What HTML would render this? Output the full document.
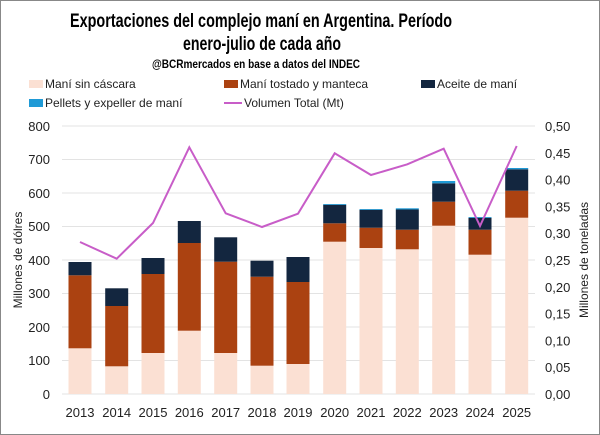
<!DOCTYPE html>
<html><head><meta charset="utf-8"><style>
html,body{margin:0;padding:0;background:#fff}
svg{display:block}
text{font-family:"Liberation Sans",sans-serif}
</style></head><body>
<svg width="600" height="435" viewBox="0 0 600 435" xmlns="http://www.w3.org/2000/svg">
<rect x="0.5" y="0.5" width="599" height="434" fill="#fff" stroke="#888"/>
<g font-family="Liberation Sans Narrow, Liberation Sans, sans-serif" font-weight="bold" text-anchor="middle" fill="#000">
<text x="261" y="27" font-size="19" textLength="382" lengthAdjust="spacingAndGlyphs">Exportaciones del complejo maní en Argentina. Período</text>
<text x="262" y="50" font-size="19" textLength="158" lengthAdjust="spacingAndGlyphs">enero-julio de cada año</text>
<text x="256" y="68" font-size="12" textLength="208" lengthAdjust="spacingAndGlyphs">@BCRmercados en base a datos del INDEC</text>
</g>
<g font-size="12" fill="#222">
<rect x="29" y="80" width="14" height="8" fill="#fbe0d3"/><text x="45" y="88">Maní sin cáscara</text>
<rect x="224" y="80" width="14" height="8" fill="#ab4211"/><text x="240" y="88">Maní tostado y manteca</text>
<rect x="421" y="80" width="14" height="8" fill="#13263f"/><text x="437" y="88">Aceite de maní</text>
<rect x="29" y="99" width="14" height="8" fill="#1f9ad6"/><text x="45" y="107">Pellets y expeller de maní</text>
<line x1="224" y1="103" x2="242" y2="103" stroke="#c85dc8" stroke-width="2"/><text x="244" y="107">Volumen Total (Mt)</text>
</g>
<g stroke="#e3e3e3" stroke-width="1">
<line x1="62" x2="535" y1="126" y2="126"/><line x1="62" x2="535" y1="159.5" y2="159.5"/>
<line x1="62" x2="535" y1="193" y2="193"/><line x1="62" x2="535" y1="226.5" y2="226.5"/>
<line x1="62" x2="535" y1="260" y2="260"/><line x1="62" x2="535" y1="293.5" y2="293.5"/>
<line x1="62" x2="535" y1="327" y2="327"/><line x1="62" x2="535" y1="360.5" y2="360.5"/>
<line x1="62" x2="535" y1="394" y2="394"/>
</g>
<g font-size="13" fill="#222" text-anchor="end">
<text x="50" y="131">800</text><text x="50" y="164">700</text><text x="50" y="198">600</text>
<text x="50" y="231">500</text><text x="50" y="265">400</text><text x="50" y="298">300</text>
<text x="50" y="332">200</text><text x="50" y="365">100</text><text x="50" y="399">0</text>
</g>
<g font-size="13" fill="#222">
<text x="545" y="131">0,50</text><text x="545" y="157.8">0,45</text><text x="545" y="184.6">0,40</text>
<text x="545" y="211.4">0,35</text><text x="545" y="238.2">0,30</text><text x="545" y="265">0,25</text>
<text x="545" y="291.8">0,20</text><text x="545" y="318.6">0,15</text><text x="545" y="345.4">0,10</text>
<text x="545" y="372.2">0,05</text><text x="545" y="399">0,00</text>
</g>
<text transform="translate(22,260) rotate(-90)" font-size="12" text-anchor="middle" fill="#222">Millones de dólres</text>
<text transform="translate(588,260) rotate(-90)" font-size="12" text-anchor="middle" fill="#222">Millones de toneladas</text>
<g>
<rect x="68.5" y="348.3" width="23" height="45.7" fill="#fbe0d3"/><rect x="68.5" y="275.3" width="23" height="73" fill="#ab4211"/><rect x="68.5" y="262" width="23" height="13.3" fill="#13263f"/>
<rect x="105.2" y="366.3" width="23" height="27.7" fill="#fbe0d3"/><rect x="105.2" y="306" width="23" height="60.3" fill="#ab4211"/><rect x="105.2" y="288.3" width="23" height="17.7" fill="#13263f"/>
<rect x="141.5" y="353" width="23" height="41" fill="#fbe0d3"/><rect x="141.5" y="274" width="23" height="79" fill="#ab4211"/><rect x="141.5" y="258" width="23" height="16" fill="#13263f"/>
<rect x="177.8" y="330.7" width="23" height="63.3" fill="#fbe0d3"/><rect x="177.8" y="243" width="23" height="87.7" fill="#ab4211"/><rect x="177.8" y="221" width="23" height="22" fill="#13263f"/>
<rect x="214.2" y="353" width="23" height="41" fill="#fbe0d3"/><rect x="214.2" y="261.7" width="23" height="91.3" fill="#ab4211"/><rect x="214.2" y="237.3" width="23" height="24.4" fill="#13263f"/>
<rect x="250.5" y="365.7" width="23" height="28.3" fill="#fbe0d3"/><rect x="250.5" y="276.7" width="23" height="89" fill="#ab4211"/><rect x="250.5" y="260.7" width="23" height="16" fill="#13263f"/>
<rect x="286.5" y="364" width="23" height="30" fill="#fbe0d3"/><rect x="286.5" y="282" width="23" height="82" fill="#ab4211"/><rect x="286.5" y="257" width="23" height="25" fill="#13263f"/>
<rect x="323.2" y="241.7" width="23" height="152.3" fill="#fbe0d3"/><rect x="323.2" y="223.3" width="23" height="18.4" fill="#ab4211"/><rect x="323.2" y="204.8" width="23" height="18.5" fill="#13263f"/><rect x="323.2" y="204" width="23" height="0.8" fill="#1f9ad6"/>
<rect x="359.5" y="248" width="23" height="146" fill="#fbe0d3"/><rect x="359.5" y="227.7" width="23" height="20.3" fill="#ab4211"/><rect x="359.5" y="209.8" width="23" height="17.9" fill="#13263f"/><rect x="359.5" y="209" width="23" height="0.8" fill="#1f9ad6"/>
<rect x="395.8" y="249.3" width="23" height="144.7" fill="#fbe0d3"/><rect x="395.8" y="229.7" width="23" height="19.6" fill="#ab4211"/><rect x="395.8" y="209.5" width="23" height="20.2" fill="#13263f"/><rect x="395.8" y="208.3" width="23" height="1.2" fill="#1f9ad6"/>
<rect x="432.2" y="225.7" width="23" height="168.3" fill="#fbe0d3"/><rect x="432.2" y="201.7" width="23" height="24" fill="#ab4211"/><rect x="432.2" y="183.3" width="23" height="18.4" fill="#13263f"/><rect x="432.2" y="181" width="23" height="2.3" fill="#1f9ad6"/>
<rect x="468.5" y="254.7" width="23" height="139.3" fill="#fbe0d3"/><rect x="468.5" y="229.7" width="23" height="25" fill="#ab4211"/><rect x="468.5" y="217.8" width="23" height="11.9" fill="#13263f"/><rect x="468.5" y="217" width="23" height="0.8" fill="#1f9ad6"/>
<rect x="505.2" y="217.7" width="23" height="176.3" fill="#fbe0d3"/><rect x="505.2" y="190.7" width="23" height="27" fill="#ab4211"/><rect x="505.2" y="169.3" width="23" height="21.4" fill="#13263f"/><rect x="505.2" y="168" width="23" height="1.3" fill="#1f9ad6"/>
</g>
<polyline fill="none" stroke="#c85dc8" stroke-width="2" points="80,242 116.7,258.7 153,223 189.3,147.3 225.7,213.3 262,227 298,213.7 334.7,153.3 371,175 407.3,164.3 443.7,148.7 480,226 516.7,146"/>
<g font-size="13" fill="#222" text-anchor="middle">
<text x="80" y="417">2013</text><text x="116.7" y="417">2014</text><text x="153" y="417">2015</text>
<text x="189.3" y="417">2016</text><text x="225.7" y="417">2017</text><text x="262" y="417">2018</text>
<text x="298" y="417">2019</text><text x="334.7" y="417">2020</text><text x="371" y="417">2021</text>
<text x="407.3" y="417">2022</text><text x="443.7" y="417">2023</text><text x="480" y="417">2024</text>
<text x="516.7" y="417">2025</text>
</g>
</svg>
</body></html>
